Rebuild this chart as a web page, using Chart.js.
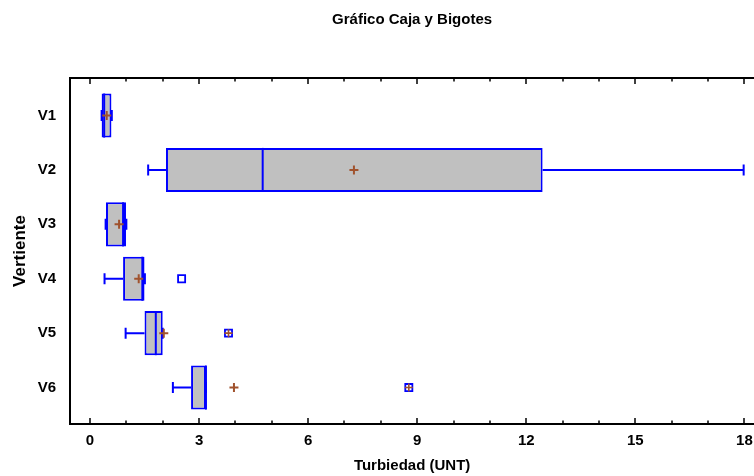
<!DOCTYPE html>
<html>
<head>
<meta charset="utf-8">
<script src="https://cdn.jsdelivr.net/npm/chart.js@4.4.1/dist/chart.umd.min.js"></script>
<style>
  html, body { margin: 0; padding: 0; background: #fff; overflow: hidden; }
  #wrap { width: 754px; height: 476px; position: relative; overflow: hidden; }
  #c { display: block; }
</style>
</head>
<body>
<div id="wrap"><canvas id="c" width="761" height="476"></canvas></div>
<script>
// ---- data ----
const categories = ['V1', 'V2', 'V3', 'V4', 'V5', 'V6'];
const whiskerMin = [0.32, 1.60, 0.43, 0.40, 0.98, 2.28];
const q1         = [0.32, 2.09, 0.44, 0.91, 1.50, 2.78];
const median     = [0.39, 4.75, 0.91, 1.44, 1.81, 3.19];
const q3         = [0.59, 12.45, 0.99, 1.50, 2.00, 3.19];
const whiskerMax = [0.60, 17.98, 1.00, 1.51, 2.00, 3.19];
const mean       = [0.46, 7.26, 0.80, 1.34, 2.03, 3.96];
// outside points (square) and far outside points (square with plus)
const outsideCats   = ['V4'];
const outsideValues = [2.52];
const farCats       = ['V5', 'V6'];
const farValues     = [3.81, 8.77];
// ticks
const xMajorTicks = [0, 3, 6, 9, 12, 15, 18];
const xMinorTicks = [1, 2, 4, 5, 7, 8, 10, 11, 13, 14, 16, 17];

const FONT = "'Liberation Sans', Arial, sans-serif";
const BLUE = '#0000ff';
const BROWN = '#a0522d';
const catIndex = c => categories.indexOf(c) + 1;

const boxExtras = {
  id: 'boxExtras',
  afterDatasetDraw(chart, args) {
    if (args.index !== 0) return;
    const { ctx, scales: { x, y } } = chart;
    const meta = chart.getDatasetMeta(0);
    ctx.save();
    ctx.strokeStyle = BLUE;
    ctx.lineWidth = 2;
    categories.forEach((c, i) => {
      const bar = meta.data[i];
      const half = bar.height / 2;
      const yc = y.getPixelForValue(i + 1);
      const px = v => x.getPixelForValue(v);
      // median
      ctx.beginPath();
      ctx.moveTo(px(median[i]), yc - half);
      ctx.lineTo(px(median[i]), yc + half);
      ctx.stroke();
      // whiskers
      ctx.beginPath();
      ctx.moveTo(px(whiskerMin[i]), yc);
      ctx.lineTo(px(q1[i]), yc);
      ctx.moveTo(px(q3[i]), yc);
      ctx.lineTo(px(whiskerMax[i]), yc);
      ctx.moveTo(px(whiskerMin[i]), yc - 5.5);
      ctx.lineTo(px(whiskerMin[i]), yc + 5.5);
      ctx.moveTo(px(whiskerMax[i]), yc - 5.5);
      ctx.lineTo(px(whiskerMax[i]), yc + 5.5);
      ctx.stroke();
    });
    ctx.restore();
  }
};

const frame = {
  id: 'frame',
  afterDraw(chart) {
    const { ctx, chartArea: a, scales: { x } } = chart;
    ctx.save();
    ctx.strokeStyle = '#000';
    ctx.lineWidth = 2;
    ctx.beginPath();
    ctx.moveTo(a.left, a.top); ctx.lineTo(a.right, a.top);
    ctx.moveTo(a.left, a.bottom); ctx.lineTo(a.right, a.bottom);
    ctx.moveTo(a.left, a.top - 1); ctx.lineTo(a.left, a.bottom + 1);
    ctx.stroke();
    ctx.lineWidth = 1.5;
    ctx.beginPath();
    xMajorTicks.forEach(v => {
      const p = Math.round(x.getPixelForValue(v));
      ctx.moveTo(p, a.bottom); ctx.lineTo(p, a.bottom - 6);
      ctx.moveTo(p, a.top); ctx.lineTo(p, a.top + 6);
    });
    xMinorTicks.forEach(v => {
      const p = Math.round(x.getPixelForValue(v));
      ctx.moveTo(p, a.bottom); ctx.lineTo(p, a.bottom - 3.5);
      ctx.moveTo(p, a.top); ctx.lineTo(p, a.top + 3.5);
    });
    ctx.stroke();
    ctx.restore();
  }
};

new Chart(document.getElementById('c'), {
  data: {
    datasets: [
      {
        type: 'bar',
        indexAxis: 'y',
        label: 'Caja',
        data: categories.map((c, i) => ({ y: i + 1, x: [q1[i], q3[i]] })),
        backgroundColor: '#c0c0c0',
        borderColor: BLUE,
        borderWidth: 2,
        borderSkipped: false,
        barPercentage: 0.81,
        categoryPercentage: 1,
        order: 3
      },
      {
        type: 'scatter',
        label: 'Fuera',
        data: outsideCats.map((c, i) => ({ x: outsideValues[i], y: catIndex(c) })),
        pointStyle: 'rect',
        radius: 5,
        borderColor: BLUE,
        backgroundColor: '#ffffff',
        borderWidth: 1.8,
        order: 2
      },
      {
        type: 'scatter',
        label: 'Muy fuera',
        data: farCats.map((c, i) => ({ x: farValues[i], y: catIndex(c) })),
        pointStyle: 'rect',
        radius: 5,
        borderColor: BLUE,
        backgroundColor: '#ffffff',
        borderWidth: 1.8,
        order: 1
      },
      {
        type: 'scatter',
        label: 'Muy fuera +',
        data: farCats.map((c, i) => ({ x: farValues[i], y: catIndex(c) })),
        pointStyle: 'cross',
        radius: 4,
        borderColor: BROWN,
        borderWidth: 1.6,
        order: 0
      },
      {
        type: 'scatter',
        label: 'Media',
        data: categories.map((c, i) => ({ x: mean[i], y: i + 1 })),
        pointStyle: 'cross',
        radius: 4.5,
        borderColor: BROWN,
        borderWidth: 2,
        order: 0
      }
    ]
  },
  options: {
    responsive: false,
    animation: false,
    events: [],
    layout: { padding: 0 },
    plugins: { legend: { display: false }, tooltip: { enabled: false }, title: { display: false } },
    scales: {
      x: {
        type: 'linear',
        position: 'bottom',
        min: -0.55,
        max: 18.27,
        offset: false,
        afterBuildTicks: s => { s.ticks = xMajorTicks.map(v => ({ value: v })); },
        afterFit: s => { s.height = 52; },
        grid: { display: false, drawTicks: false },
        border: { display: false },
        ticks: { color: '#000', font: { family: FONT, size: 15, weight: 'bold' }, padding: 8, maxRotation: 0 },
        title: { display: true, text: 'Turbiedad (UNT)', color: '#000',
                 font: { family: FONT, size: 15, weight: 'bold' }, padding: { top: 0, bottom: 1 } }
      },
      x2: {
        type: 'linear',
        position: 'top',
        min: -0.55,
        max: 18.27,
        offset: false,
        afterFit: s => { s.height = 78; },
        grid: { display: false, drawTicks: false },
        border: { display: false },
        ticks: { display: false },
        title: { display: true, text: 'Gráfico Caja y Bigotes', color: '#000',
                 font: { family: FONT, size: 15, weight: 'bold' }, padding: { top: 11, bottom: 0 } }
      },
      y: {
        type: 'linear',
        position: 'left',
        reverse: true,
        offset: false,
        min: 0.31,
        max: 6.67,
        afterBuildTicks: s => { s.ticks = categories.map((c, i) => ({ value: i + 1 })); },
        afterFit: s => { s.width = 70; },
        grid: { display: false, drawTicks: false, offset: false },
        border: { display: false },
        ticks: { color: '#000', font: { family: FONT, size: 15, weight: 'bold' }, padding: 14,
                 callback: v => categories[Math.round(v) - 1] },
        title: { display: true, text: 'Vertiente', color: '#000',
                 font: { family: FONT, size: 17, weight: 'bold' }, padding: { top: 10, bottom: 0 } }
      }
    }
  },
  plugins: [boxExtras, frame]
});
</script>
</body>
</html>
